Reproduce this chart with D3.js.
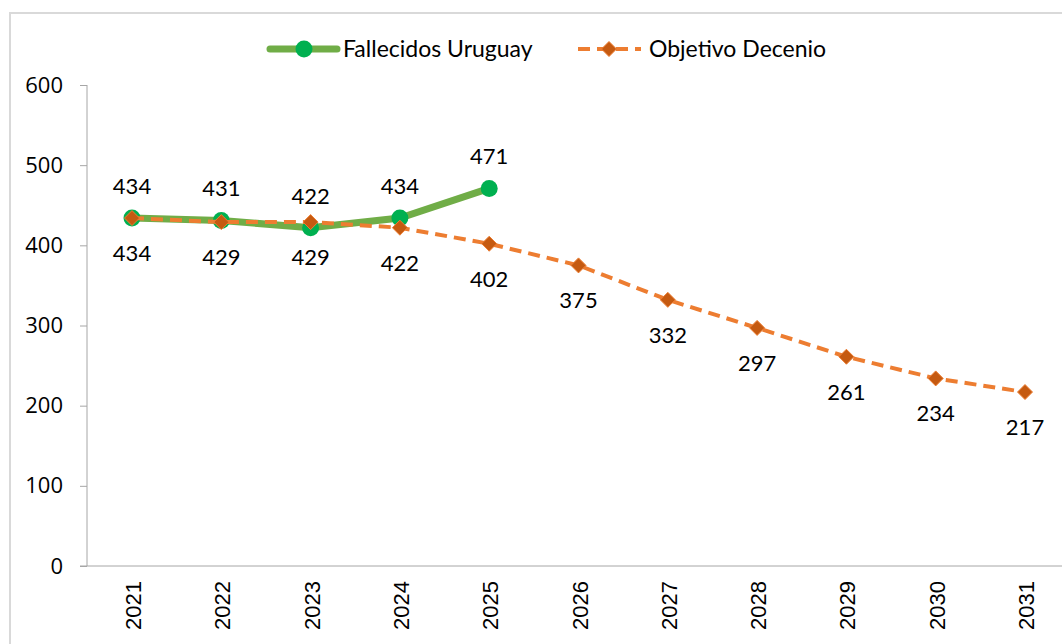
<!DOCTYPE html>
<html>
<head>
<meta charset="utf-8">
<script src="https://cdn.jsdelivr.net/npm/d3@7"></script>
<style>
  body { margin: 0; background: #fff; }
  svg { display: block; }
</style>
</head>
<body>
<svg width="1062" height="644"></svg>
<script>
// Chart data
const years = ["2021", "2022", "2023", "2024", "2025", "2026", "2027", "2028", "2029", "2030", "2031"];
const fallecidos = [434, 431, 422, 434, 471];
const objetivo = [434, 429, 429, 422, 402, 375, 332, 297, 261, 234, 217];
const yTicks = [0, 100, 200, 300, 400, 500, 600];

const width = 1062, height = 644;
const svg = d3.select("svg");
const labelFont = "Lato, 'Open Sans', sans-serif";

// Chart border
svg.append("rect")
    .attr("x", 10).attr("y", 13)
    .attr("width", 1100).attr("height", 700)
    .attr("fill", "none")
    .attr("stroke", "#d9d9d9")
    .attr("stroke-width", 2);

// Scales
const xScale = d3.scalePoint()
    .domain(years)
    .range([132, 1025]);

const yScale = d3.scaleLinear()
    .domain([0, 600])
    .range([566, 85]);

// Y axis
const yAxis = svg.append("g")
    .attr("transform", "translate(87,0)")
    .call(d3.axisLeft(yScale).tickValues(yTicks).tickSize(7).tickPadding(17));
yAxis.select(".domain").attr("stroke", "#a6a6a6").attr("d", "M0,85V566");
yAxis.selectAll(".tick line").attr("stroke", "#a6a6a6");
yAxis.selectAll("text")
    .attr("font-family", "'Open Sans', sans-serif")
    .attr("font-size", 22)
    .attr("fill", "#000");

// X axis
svg.append("line")
    .attr("x1", 80).attr("x2", width)
    .attr("y1", 566).attr("y2", 566)
    .attr("stroke", "#a6a6a6");

svg.append("g").selectAll("text")
    .data(years)
    .enter()
    .append("text")
    .attr("transform", d => `translate(${xScale(d) + 9}, 581) rotate(-90)`)
    .attr("text-anchor", "end")
    .attr("font-family", "'Liberation Sans', Arial, sans-serif")
    .attr("font-size", 22)
    .text(d => d);

const lineGen = d3.line()
    .x((d, i) => xScale(years[i]))
    .y(d => yScale(d));

// Fallecidos line + markers
svg.append("path")
    .datum(fallecidos)
    .attr("d", lineGen)
    .attr("fill", "none")
    .attr("stroke", "#70ad47")
    .attr("stroke-width", 7);

svg.append("g").selectAll("circle")
    .data(fallecidos)
    .enter()
    .append("circle")
    .attr("cx", (d, i) => xScale(years[i]))
    .attr("cy", d => yScale(d))
    .attr("r", 8.5)
    .attr("fill", "#00b050");

// Objetivo Decenio line + diamonds
svg.append("path")
    .datum(objetivo)
    .attr("d", lineGen)
    .attr("fill", "none")
    .attr("stroke", "#ed7d31")
    .attr("stroke-width", 4)
    .attr("stroke-dasharray", "12,7");

const diamond = (cx, cy, s) => `M${cx},${cy - s}L${cx + s},${cy}L${cx},${cy + s}L${cx - s},${cy}Z`;
svg.append("g").selectAll("path")
    .data(objetivo)
    .enter()
    .append("path")
    .attr("d", (d, i) => diamond(xScale(years[i]), yScale(d), 7.5))
    .attr("fill", "#c55a11")
    .attr("stroke", "#ed7d31")
    .attr("stroke-width", 1);

// Data labels
svg.append("g").selectAll("text")
    .data(fallecidos)
    .enter()
    .append("text")
    .attr("x", (d, i) => xScale(years[i]))
    .attr("y", d => yScale(d) - 24)
    .attr("text-anchor", "middle")
    .attr("font-family", labelFont)
    .attr("font-size", 22)
    .text(d => d);

svg.append("g").selectAll("text")
    .data(objetivo)
    .enter()
    .append("text")
    .attr("x", (d, i) => xScale(years[i]))
    .attr("y", d => yScale(d) + 43)
    .attr("text-anchor", "middle")
    .attr("font-family", labelFont)
    .attr("font-size", 22)
    .text(d => d);

// Legend
const legend = svg.append("g");
legend.append("line")
    .attr("x1", 270).attr("x2", 337).attr("y1", 49).attr("y2", 49)
    .attr("stroke", "#70ad47").attr("stroke-width", 7).attr("stroke-linecap", "round");
legend.append("circle")
    .attr("cx", 304).attr("cy", 49).attr("r", 8.5).attr("fill", "#00b050");
legend.append("text")
    .attr("x", 343).attr("y", 57)
    .attr("font-family", labelFont).attr("font-size", 23)
    .text("Fallecidos Uruguay");

legend.append("line")
    .attr("x1", 578).attr("x2", 641).attr("y1", 49).attr("y2", 49)
    .attr("stroke", "#ed7d31").attr("stroke-width", 4).attr("stroke-dasharray", "12,7");
legend.append("path")
    .attr("d", diamond(609, 49, 7.5))
    .attr("fill", "#c55a11").attr("stroke", "#ed7d31");
legend.append("text")
    .attr("x", 649).attr("y", 57)
    .attr("font-family", labelFont).attr("font-size", 23)
    .text("Objetivo Decenio");
</script>
</body>
</html>
